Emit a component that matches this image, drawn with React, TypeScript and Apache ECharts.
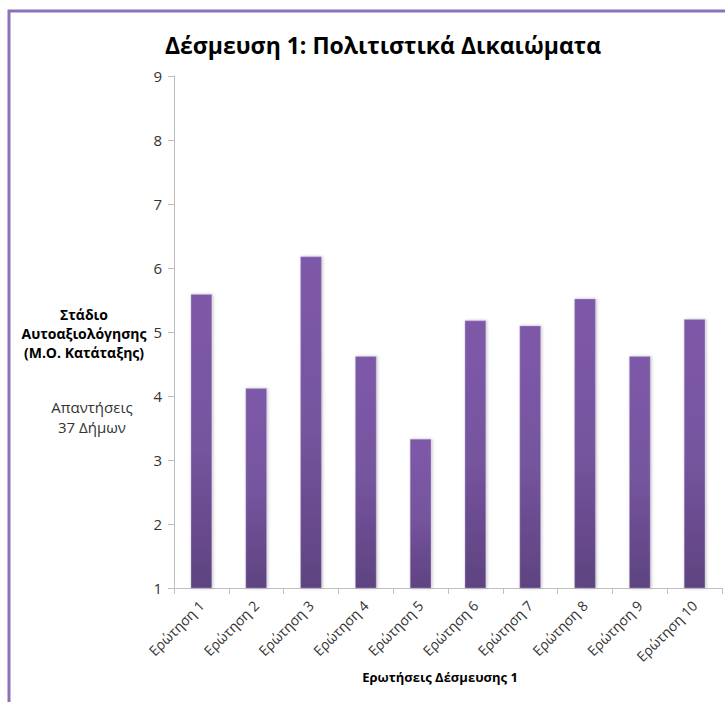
import React, { useEffect, useRef } from "react";
import * as echarts from "echarts";

const categories = [
  "Ερώτηση 1", "Ερώτηση 2", "Ερώτηση 3", "Ερώτηση 4", "Ερώτηση 5",
  "Ερώτηση 6", "Ερώτηση 7", "Ερώτηση 8", "Ερώτηση 9", "Ερώτηση 10",
];
const values = [5.59, 4.12, 6.18, 4.62, 3.33, 5.18, 5.10, 5.52, 4.62, 5.20];
const yMin = 1;
const yMax = 9;
const yInterval = 1;
const titleText = "Δέσμευση 1: Πολιτιστικά Δικαιώματα";
const xAxisName = "Ερωτήσεις Δέσμευσης 1";
const yAxisNameBold = "Στάδιο\nΑυτοαξιολόγησης\n(Μ.Ο. Κατάταξης)";
const yAxisNote = "Απαντήσεις\n37 Δήμων";

const FONT = "'Open Sans', sans-serif";

export default function App() {
  const ref = useRef<HTMLDivElement>(null);
  useEffect(() => {
    if (!ref.current) return;
    const chart = echarts.init(ref.current, null, { renderer: "svg" });
    chart.setOption({
      animation: false,
      backgroundColor: "#ffffff",
      textStyle: { fontFamily: FONT },
      title: {
        text: titleText,
        left: 378,
        textAlign: "center",
        top: 28,
        textStyle: { fontFamily: FONT, fontSize: 23, fontWeight: "bold", color: "#000000" },
      },
      graphic: [
        {
          type: "rect",
          shape: { x: 9, y: 11, width: 900, height: 900 },
          style: { fill: "none", stroke: "#8e72b8", lineWidth: 3 },
          silent: true,
        },
        {
          type: "text",
          x: 84,
          y: 305,
          style: {
            text: yAxisNameBold,
            fontFamily: FONT,
            fontSize: 14,
            fontWeight: "bold",
            fill: "#000000",
            align: "center",
            lineHeight: 19,
          },
        },
        {
          type: "text",
          x: 92,
          y: 397,
          style: {
            text: yAxisNote,
            fontFamily: FONT,
            fontSize: 15,
            fill: "#333333",
            align: "center",
            lineHeight: 20,
          },
        },
        {
          type: "text",
          x: 440,
          y: 670,
          style: {
            text: xAxisName,
            fontFamily: FONT,
            fontSize: 13,
            fontWeight: "bold",
            fill: "#000000",
            align: "center",
          },
        },
      ],
      grid: { left: 174, top: 76, right: 3, bottom: 114, containLabel: false },
      xAxis: {
        type: "category",
        data: categories,
        axisLine: { show: true, lineStyle: { color: "#bfbfbf", width: 1 } },
        axisTick: { show: true, length: 6, lineStyle: { color: "#bfbfbf" }, alignWithLabel: false },
        axisLabel: {
          rotate: 45,
          interval: 0,
          margin: 15,
          fontFamily: FONT,
          fontSize: 14,
          color: "#333333",
        },
      },
      yAxis: {
        type: "value",
        min: yMin,
        max: yMax,
        interval: yInterval,
        axisLine: { show: true, lineStyle: { color: "#bfbfbf", width: 1 } },
        axisTick: { show: true, length: 6, lineStyle: { color: "#bfbfbf" } },
        splitLine: { show: false },
        axisLabel: { margin: 12, fontFamily: FONT, fontSize: 15, color: "#333333" },
      },
      series: [
        {
          type: "bar",
          data: values,
          barWidth: "39%",
          itemStyle: {
            color: new echarts.graphic.LinearGradient(0, 0, 0, 1, [
              { offset: 0, color: "#7d59a8" },
              { offset: 0.5, color: "#76559f" },
              { offset: 1, color: "#5e4380" },
            ]),
            borderColor: "rgba(190,175,215,0.7)",
            borderWidth: 0.6,
            shadowColor: "rgba(0,0,0,0.25)",
            shadowBlur: 3,
            shadowOffsetX: 1,
          },
        },
      ],
    });
    return () => chart.dispose();
  }, []);
  return (
    <div
      ref={ref}
      style={{ position: "fixed", left: 0, top: 0, width: 725, height: 702 }}
    />
  );
}
